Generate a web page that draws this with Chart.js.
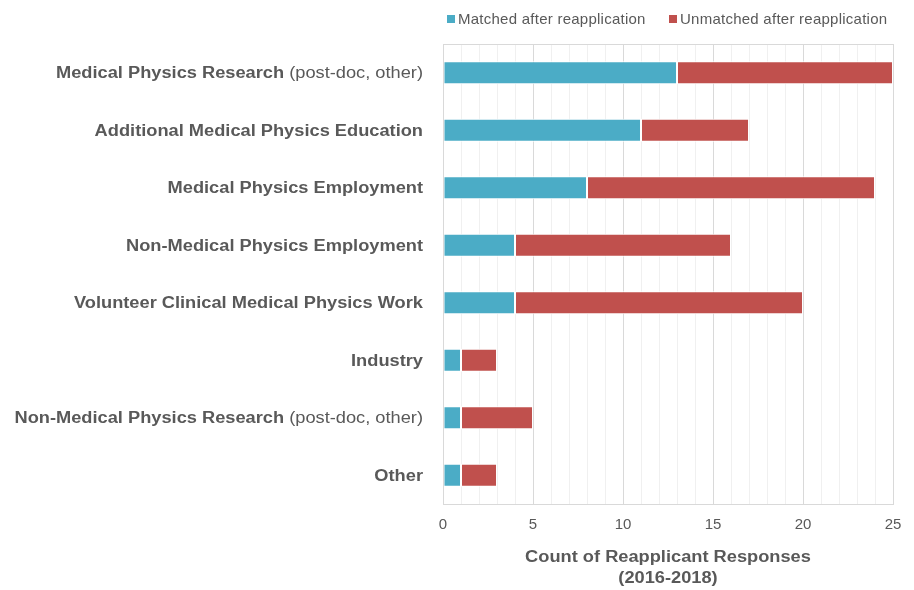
<!DOCTYPE html>
<html>
<head>
<meta charset="utf-8">
<script src="https://cdn.jsdelivr.net/npm/chart.js@4"></script>
<style>
  html, body { margin: 0; padding: 0; background: #fff; }
  #wrap { width: 914px; height: 590px; }
</style>
</head>
<body>
<div id="wrap"><canvas id="chart" width="914" height="590"></canvas></div>
<script>
// ===== Data =====
const categoryMain = [
  'Medical Physics Research',
  'Additional Medical Physics Education',
  'Medical Physics Employment',
  'Non-Medical Physics Employment',
  'Volunteer Clinical Medical Physics Work',
  'Industry',
  'Non-Medical Physics Research',
  'Other'
];
const categoryNote = ['(post-doc, other)', '', '', '', '', '', '(post-doc, other)', ''];

const matched   = [13, 11, 8, 4, 4, 1, 1, 1];
const unmatched = [12, 6, 16, 12, 16, 2, 4, 2];

const seriesNames = ['Matched after reapplication', 'Unmatched after reapplication'];
const seriesColors = ['#4BACC6', '#C0504D'];

const xTitle = ['Count of Reapplicant Responses', '(2016-2018)'];

const TEXT_COLOR = '#595959';
const FONT = '"Liberation Sans", Arial, sans-serif';
const STRETCH = 1.14; // the original labels are set a bit wide

// text drawn with a horizontal stretch, anchored by ctx.textAlign
function wideText(ctx, text, x, y) {
  ctx.save();
  ctx.translate(x, y);
  ctx.scale(STRETCH, 1);
  ctx.fillText(text, 0, 0);
  ctx.restore();
}

// ---- draws y labels (bold part + normal note), legend, x title and plot frame ----
const decorPlugin = {
  id: 'decor',
  afterDraw(chart) {
    const { ctx, chartArea, scales } = chart;
    ctx.save();

    // frame round the plot area
    ctx.strokeStyle = '#d9d9d9';
    ctx.lineWidth = 1;
    ctx.strokeRect(chartArea.left + 0.5, chartArea.top + 0.5,
                   chartArea.right - chartArea.left, chartArea.bottom - chartArea.top);

    // category labels
    ctx.fillStyle = TEXT_COLOR;
    ctx.textBaseline = 'middle';
    ctx.textAlign = 'right';
    const xRight = chartArea.left - 20;
    categoryMain.forEach((name, i) => {
      const y = scales.y.getPixelForValue(i) + 1;
      let x = xRight;
      const note = categoryNote[i];
      if (note) {
        ctx.font = '16px ' + FONT;
        wideText(ctx, note, x, y);
        x -= (ctx.measureText(note).width + ctx.measureText(' ').width) * STRETCH;
      }
      ctx.font = 'bold 16px ' + FONT;
      wideText(ctx, name, x, y);
    });

    // x axis title (two lines)
    ctx.textAlign = 'center';
    ctx.font = 'bold 16px ' + FONT;
    const cx = (chartArea.left + chartArea.right) / 2;
    xTitle.forEach((line, i) => wideText(ctx, line, cx, 558 + i * 21));

    // legend
    ctx.letterSpacing = '0.25px';
    ctx.font = '15px ' + FONT;
    ctx.textAlign = 'left';
    const legendX = [447, 669];
    chart.data.datasets.forEach((ds, i) => {
      ctx.fillStyle = ds.backgroundColor;
      ctx.fillRect(legendX[i], 15, 8, 8);
      ctx.fillStyle = TEXT_COLOR;
      ctx.fillText(ds.label, legendX[i] + 11, 20);
    });

    ctx.restore();
  }
};

new Chart(document.getElementById('chart'), {
  type: 'bar',
  data: {
    labels: categoryMain,
    datasets: [
      {
        label: seriesNames[0],
        data: matched,
        backgroundColor: seriesColors[0],
        borderColor: '#ffffff',
        borderWidth: 1,
        borderSkipped: false,
        barPercentage: 0.4,
        categoryPercentage: 1
      },
      {
        label: seriesNames[1],
        data: unmatched,
        backgroundColor: seriesColors[1],
        borderColor: '#ffffff',
        borderWidth: 1,
        borderSkipped: false,
        barPercentage: 0.4,
        categoryPercentage: 1
      }
    ]
  },
  options: {
    indexAxis: 'y',
    responsive: false,
    animation: false,
    layout: { padding: { left: 443, right: 21, top: 44, bottom: 44 } },
    plugins: {
      legend: { display: false },
      tooltip: { enabled: false }
    },
    scales: {
      x: {
        stacked: true,
        min: 0,
        max: 25,
        ticks: {
          stepSize: 1,
          autoSkip: false,
          maxRotation: 0,
          color: TEXT_COLOR,
          font: { family: FONT, size: 15 },
          padding: 12,
          callback: v => (v % 5 === 0 ? String(v) : '')
        },
        grid: {
          color: c => (c.tick && c.tick.value % 5 === 0 ? '#d9d9d9' : '#f0f0f0'),
          drawTicks: false
        },
        border: { color: '#d9d9d9' },
        title: { display: false }
      },
      y: {
        stacked: true,
        display: false
      }
    }
  },
  plugins: [decorPlugin]
});
</script>
</body>
</html>
